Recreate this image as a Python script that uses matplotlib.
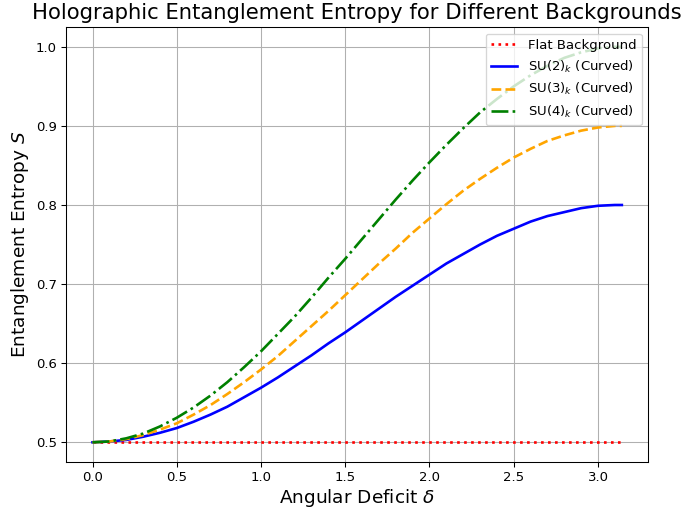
import matplotlib.pyplot as plt

# angular deficit samples (last point = pi)
delta = [0.0, 0.1, 0.2, 0.3, 0.4, 0.5, 0.6, 0.7, 0.8, 0.9,
         1.0, 1.1, 1.2, 1.3, 1.4, 1.5, 1.6, 1.7, 1.8, 1.9,
         2.0, 2.1, 2.2, 2.3, 2.4, 2.5, 2.6, 2.7, 2.8, 2.9,
         3.0, 3.1, 3.1416]

s_flat = [0.5] * len(delta)
s_su2 = [0.500, 0.501, 0.503, 0.507, 0.512, 0.518, 0.526, 0.535, 0.545, 0.557,
         0.569, 0.582, 0.596, 0.610, 0.625, 0.639, 0.654, 0.669, 0.684, 0.698,
         0.712, 0.726, 0.738, 0.750, 0.761, 0.770, 0.779, 0.786, 0.791, 0.796,
         0.799, 0.800, 0.800]
s_su3 = [0.500, 0.501, 0.504, 0.509, 0.516, 0.524, 0.535, 0.547, 0.561, 0.576,
         0.592, 0.609, 0.628, 0.647, 0.666, 0.686, 0.706, 0.726, 0.745, 0.765,
         0.783, 0.801, 0.818, 0.833, 0.847, 0.860, 0.871, 0.881, 0.888, 0.894,
         0.898, 0.900, 0.900]
s_su4 = [0.500, 0.501, 0.505, 0.511, 0.520, 0.531, 0.544, 0.559, 0.576, 0.595,
         0.615, 0.637, 0.659, 0.683, 0.708, 0.732, 0.757, 0.782, 0.807, 0.831,
         0.854, 0.876, 0.897, 0.917, 0.934, 0.950, 0.964, 0.976, 0.986, 0.993,
         0.998, 1.000, 1.000]

DPI = 95
fig = plt.figure(figsize=(681 / DPI, 510 / DPI), dpi=DPI)
ax = fig.add_axes([0.097, 0.094, 0.855, 0.853])

ax.plot(delta, s_flat, color="red", linestyle=":", linewidth=2, label="Flat Background")
ax.plot(delta, s_su2, color="blue", linestyle="-", linewidth=2, label=r"SU(2)$_k$ (Curved)")
ax.plot(delta, s_su3, color="orange", linestyle="--", linewidth=2, label=r"SU(3)$_k$ (Curved)")
ax.plot(delta, s_su4, color="green", linestyle="-.", linewidth=2, label=r"SU(4)$_k$ (Curved)")

ax.set_title("Holographic Entanglement Entropy for Different Backgrounds", fontsize=16)
ax.set_xlabel(r"Angular Deficit $\delta$", fontsize=14, labelpad=2)
ax.set_ylabel(r"Entanglement Entropy $S$", fontsize=14)
ax.legend(loc="upper right")
ax.grid(True)

fig.savefig("out.png", dpi=DPI)
